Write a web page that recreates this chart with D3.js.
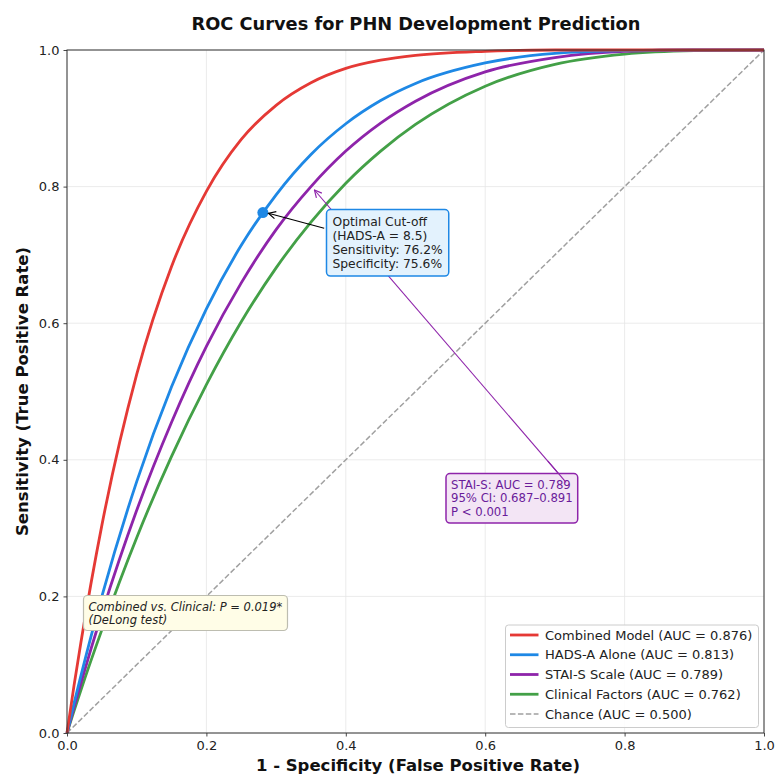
<!DOCTYPE html>
<html>
<head>
<meta charset="utf-8">
<script src="https://cdn.jsdelivr.net/npm/d3@7"></script>
<style>
  body { margin: 0; background: #fff; }
  text { font-family: "DejaVu Sans", sans-serif; }
</style>
</head>
<body>
<div id="chart"></div>
<script>
// false positive rates the curves were read at
const fpr = [0, 0.01, 0.02, 0.05, 0.1, 0.15, 0.2, 0.25, 0.3, 0.35, 0.4, 0.45, 0.5, 0.6, 0.7, 0.8, 0.9, 1.0];

// sensitivity of each model at those points
const combinedTpr = [0, 0.069, 0.133, 0.304, 0.525, 0.683, 0.793, 0.869, 0.919, 0.952, 0.973, 0.985, 0.992, 0.998, 1.0, 1.0, 1.0, 1.0];
const hadsTpr     = [0, 0.043, 0.084, 0.200, 0.368, 0.507, 0.621, 0.714, 0.788, 0.847, 0.892, 0.926, 0.951, 0.981, 0.995, 0.999, 1.0, 1.0];
const staiTpr     = [0, 0.037, 0.073, 0.175, 0.326, 0.455, 0.566, 0.659, 0.737, 0.800, 0.852, 0.893, 0.925, 0.968, 0.989, 0.998, 1.0, 1.0];
const clinicalTpr = [0, 0.032, 0.063, 0.151, 0.286, 0.405, 0.510, 0.602, 0.681, 0.748, 0.805, 0.852, 0.891, 0.947, 0.979, 0.994, 0.999, 1.0];

const chanceFpr = [0, 1];
const chanceTpr = [0, 1];

const seriesNames = ["Combined Model (AUC = 0.876)", "HADS-A Alone (AUC = 0.813)", "STAI-S Scale (AUC = 0.789)", "Clinical Factors (AUC = 0.762)"];
const seriesColors = ["#E53935", "#1E88E5", "#8E24AA", "#43A047"];
const chanceName = "Chance (AUC = 0.500)";

const tickValues = [0, 0.2, 0.4, 0.6, 0.8, 1.0];

// optimal cut-off point on the HADS-A curve
const optimalPoint = [0.281, 0.762];
const optimalLines = ["Optimal Cut-off", "(HADS-A = 8.5)", "Sensitivity: 76.2%", "Specificity: 75.6%"];
const staiLines = ["STAI-S: AUC = 0.789", "95% CI: 0.687\u20130.891", "P < 0.001"];
const delongLines = ["Combined vs. Clinical: P = 0.019*", "(DeLong test)"];

var W = 775, H = 776;
var svg = d3.select("#chart").append("svg").attr("width", W).attr("height", H);

var x = d3.scaleLinear().domain([0, 1]).range([67, 764]);
var y = d3.scaleLinear().domain([0, 1]).range([733, 50]);

var defs = svg.append("defs");
function marker(id, color) {
  defs.append("marker")
    .attr("id", id)
    .attr("viewBox", "0 0 10 10")
    .attr("refX", 9).attr("refY", 5)
    .attr("markerWidth", 9).attr("markerHeight", 9)
    .attr("markerUnits", "userSpaceOnUse")
    .attr("orient", "auto")
    .append("path")
    .attr("d", "M1,1 L9,5 L1,9")
    .attr("fill", "none")
    .attr("stroke", color)
    .attr("stroke-width", 1.3);
}
marker("arrBlack", "#000");
marker("arrPurple", "#8E24AA");

// grid
svg.append("g").selectAll("line.gx").data(tickValues).enter().append("line")
  .attr("x1", d => x(d)).attr("x2", d => x(d))
  .attr("y1", y(0)).attr("y2", y(1))
  .attr("stroke", "#e6e6e6").attr("stroke-width", 0.8);
svg.append("g").selectAll("line.gy").data(tickValues).enter().append("line")
  .attr("y1", d => y(d)).attr("y2", d => y(d))
  .attr("x1", x(0)).attr("x2", x(1))
  .attr("stroke", "#e6e6e6").attr("stroke-width", 0.8);

// chance line
var line = d3.line().x(d => x(d[0])).y(d => y(d[1]));
svg.append("path")
  .datum(chanceFpr.map((v, i) => [v, chanceTpr[i]]))
  .attr("d", line)
  .attr("fill", "none")
  .attr("stroke", "#a0a0a0")
  .attr("stroke-width", 1.5)
  .attr("stroke-dasharray", "5.5,2.4");

// roc curves
var curveLine = d3.line().x(d => x(d[0])).y(d => y(d[1])).curve(d3.curveMonotoneX);
var allTpr = [combinedTpr, hadsTpr, staiTpr, clinicalTpr];
for (var s = allTpr.length - 1; s >= 0; s--) {
  svg.append("path")
    .datum(fpr.map((v, i) => [v, allTpr[s][i]]))
    .attr("d", curveLine)
    .attr("fill", "none")
    .attr("stroke", seriesColors[s])
    .attr("stroke-width", 2.8)
    .attr("stroke-linejoin", "round");
}

// axes
var xAxis = d3.axisBottom(x).tickValues(tickValues).tickFormat(d3.format(".1f")).tickSize(3.5).tickPadding(4);
var yAxis = d3.axisLeft(y).tickValues(tickValues).tickFormat(d3.format(".1f")).tickSize(3.5).tickPadding(4);
var gx = svg.append("g").attr("transform", "translate(0," + y(0) + ")").call(xAxis);
var gy = svg.append("g").attr("transform", "translate(" + x(0) + ",0)").call(yAxis);
[gx, gy].forEach(function(g) {
  g.select(".domain").remove();
  g.selectAll("line").attr("stroke", "#333").attr("stroke-width", 0.9);
  g.selectAll("text").attr("font-size", "13px").attr("fill", "#222")
    .style("font-family", "DejaVu Sans, sans-serif");
});

// frame
svg.append("rect")
  .attr("x", x(0)).attr("y", y(1))
  .attr("width", x(1) - x(0)).attr("height", y(0) - y(1))
  .attr("fill", "none").attr("stroke", "#333").attr("stroke-width", 1);

// optimal point + annotation
svg.append("circle")
  .attr("cx", x(optimalPoint[0])).attr("cy", y(optimalPoint[1]))
  .attr("r", 5.5).attr("fill", "#1E88E5");

function textBox(lines, left, firstBase, step, fs, opts) {
  var g = svg.append("g");
  var rect = g.append("rect");
  var t = g.append("text")
    .attr("font-size", fs + "px")
    .attr("fill", opts.color)
    .attr("font-style", opts.italic ? "italic" : "normal");
  lines.forEach(function(l, i) {
    t.append("tspan").attr("x", left).attr("y", firstBase + i * step).text(l);
  });
  var bb = t.node().getBBox();
  rect.attr("x", bb.x - opts.pad).attr("y", bb.y - opts.pad + 1)
    .attr("width", bb.width + 2 * opts.pad).attr("height", bb.height + 2 * opts.pad - 2)
    .attr("rx", 4).attr("ry", 4)
    .attr("fill", opts.fill).attr("stroke", opts.stroke).attr("stroke-width", opts.sw);
  return g;
}

// arrows (drawn before the boxes so boxes sit on top)
svg.append("line")
  .attr("x1", x(0.716)).attr("y1", y(0.367))
  .attr("x2", x(0.355)).attr("y2", y(0.795))
  .attr("stroke", "#8E24AA").attr("stroke-width", 1.1)
  .attr("marker-end", "url(#arrPurple)");

textBox(optimalLines, 332.5, 225.5, 14.2, 12.3, {color: "#222", fill: "#E3F2FD", stroke: "#1E88E5", sw: 1.5, pad: 6});
textBox(staiLines, 451, 488.5, 13.8, 11.7, {color: "#6A1B9A", fill: "#F3E5F5", stroke: "#8E24AA", sw: 1.5, pad: 5});
textBox(delongLines, 88.5, 610.5, 13, 11.5, {color: "#222", fill: "#FFFDE7", stroke: "#bdbdb0", sw: 1.2, pad: 5, italic: true});

// purple arrow tail runs over its own box
svg.append("line")
  .attr("x1", x(0.716)).attr("y1", y(0.367))
  .attr("x2", x(0.690)).attr("y2", y(0.398))
  .attr("stroke", "#8E24AA").attr("stroke-width", 1.1);

svg.append("line")
  .attr("x1", x(0.369)).attr("y1", y(0.739))
  .attr("x2", x(0.289)).attr("y2", y(0.761))
  .attr("stroke", "#000").attr("stroke-width", 1.2)
  .attr("marker-end", "url(#arrBlack)");

// legend
var lg = svg.append("g");
lg.append("rect")
  .attr("x", 505.5).attr("y", 625).attr("width", 253).attr("height", 102.5)
  .attr("rx", 3).attr("fill", "#fff").attr("fill-opacity", 0.85)
  .attr("stroke", "#cccccc").attr("stroke-width", 1);
var legendItems = seriesNames.map((n, i) => ({name: n, color: seriesColors[i], dash: null}))
  .concat([{name: chanceName, color: "#a0a0a0", dash: "5.5,2.4"}]);
legendItems.forEach(function(d, i) {
  var cy = 635 + i * 19.75;
  lg.append("line")
    .attr("x1", 510).attr("x2", 538.5).attr("y1", cy).attr("y2", cy)
    .attr("stroke", d.color)
    .attr("stroke-width", d.dash ? 1.5 : 2.8)
    .attr("stroke-dasharray", d.dash);
  lg.append("text")
    .attr("x", 545).attr("y", cy + 4.6)
    .attr("font-size", "13px").attr("fill", "#222")
    .text(d.name);
});

// titles
svg.append("text")
  .attr("x", 416).attr("y", 30)
  .attr("text-anchor", "middle")
  .attr("font-size", "17.8px").attr("font-weight", "bold").attr("fill", "#111")
  .text("ROC Curves for PHN Development Prediction");

svg.append("text")
  .attr("x", 418).attr("y", 771)
  .attr("text-anchor", "middle")
  .attr("font-size", "16.5px").attr("font-weight", "bold").attr("fill", "#111")
  .text("1 - Specificity (False Positive Rate)");

svg.append("text")
  .attr("transform", "translate(28," + ((y(0) + y(1)) / 2) + ") rotate(-90)")
  .attr("text-anchor", "middle")
  .attr("font-size", "16.5px").attr("font-weight", "bold").attr("fill", "#111")
  .text("Sensitivity (True Positive Rate)");
</script>
</body>
</html>
